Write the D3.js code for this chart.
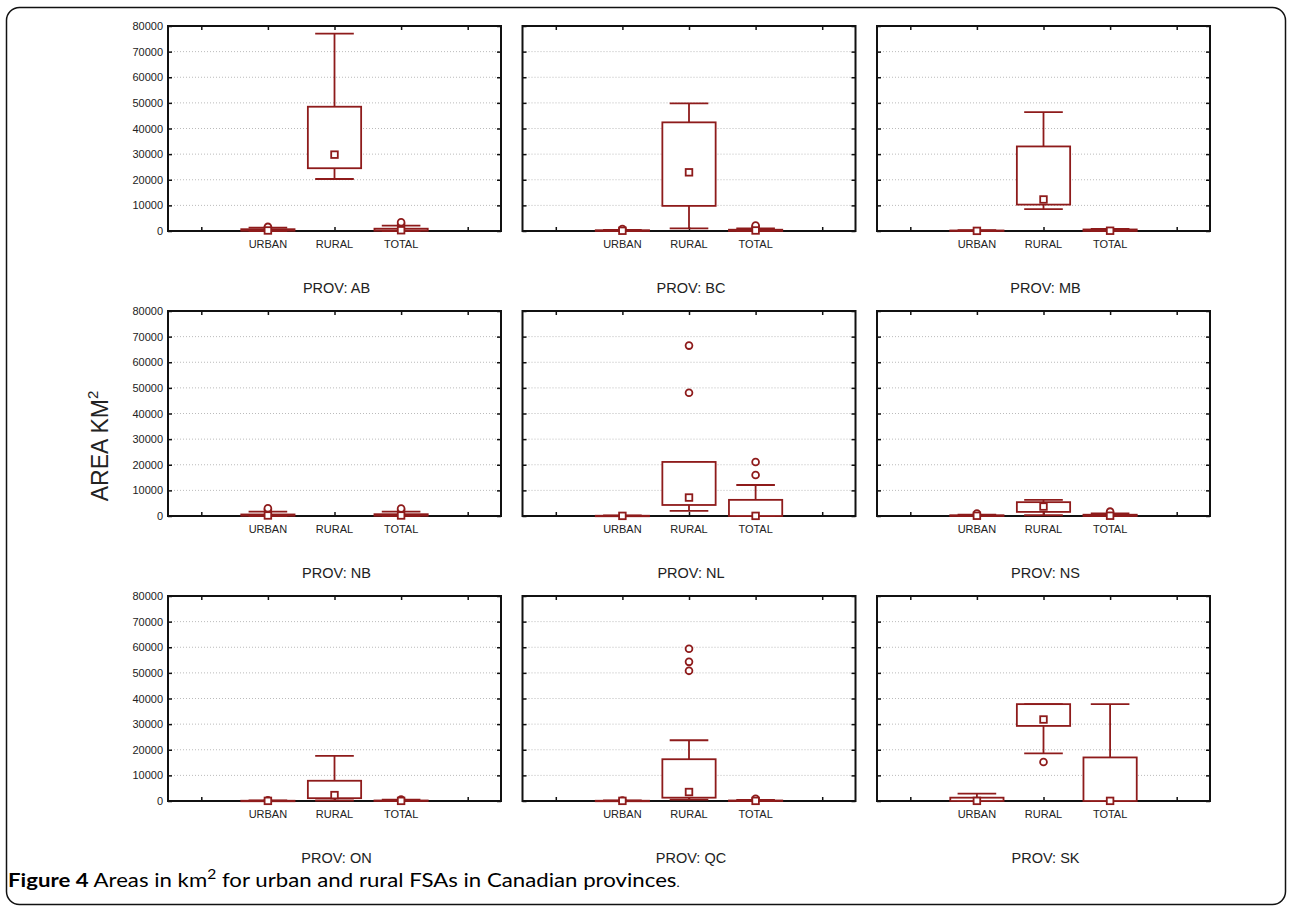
<!DOCTYPE html>
<html>
<head>
<meta charset="utf-8">
<style>
body { margin: 0; background: #fff; }
text { font-family: "Liberation Sans", Arial, sans-serif; fill: #222; }
.grid line { stroke: #bbb; stroke-dasharray: 1,2; }
.box { fill: #fff; stroke: #8e1b1b; stroke-width: 1.8; }
.whisk { stroke: #8e1b1b; stroke-width: 1.8; }
.frame { fill: none; stroke: #111; stroke-width: 2; }
</style>
</head>
<body>

<svg id="chart" width="1289" height="907"></svg>

<script src="https://d3js.org/d3.v7.min.js"></script>
<script>

var provinces = ["AB", "BC", "MB", "NB", "NL", "NS", "ON", "QC", "SK"];
var categories = ["URBAN", "RURAL", "TOTAL"];
var yTicks = [0, 10000, 20000, 30000, 40000, 50000, 60000, 70000, 80000];

// one row per province, one value per category (null = no data)
var whiskerLow = [
    [0, 20300, 0], [0, 1000, 0], [0, 8500, 0],
    [0, null, 0], [0, 2000, 0], [0, 300, 0],
    [0, 200, 0], [0, 500, 0], [0, 18600, 0]
];
var boxLow = [
    [100, 24500, 100], [0, 9800, 0], [0, 10300, 0],
    [100, null, 100], [0, 4300, 0], [0, 1600, 0],
    [0, 1100, 0], [0, 1300, 0], [0, 29300, 0]
];
var median = [
    [200, 29800, 300], [100, 22900, 200], [50, 12300, 100],
    [200, null, 200], [50, 7200, 50], [100, 3700, 100],
    [50, 2300, 50], [50, 3500, 50], [50, 31800, 50]
];
var boxHigh = [
    [700, 48500, 900], [300, 42400, 500], [200, 33000, 600],
    [600, null, 700], [100, 21100, 6300], [300, 5400, 500],
    [100, 7900, 200], [100, 16300, 200], [1300, 37800, 17000]
];
var whiskerHigh = [
    [1300, 77000, 2100], [400, 49800, 1000], [300, 46400, 800],
    [1700, null, 1700], [200, 21100, 12100], [500, 6300, 1000],
    [200, 17600, 500], [200, 23700, 400], [2900, 37800, 37800]
];
var outliers = [
    [[1600], [], [2700, 3400]],
    [[800], [], [1600, 2100]],
    [[], [], []],
    [[2400, 3000], [], [2300, 2900]],
    [[], [48100, 66500], [16000, 21100]],
    [[1000], [], [1700]],
    [[300], [], [600]],
    [[200], [50800, 54300, 59400], [900]],
    [[], [15200], []]
];

var svg = d3.select("#chart");

// outer rounded frame
svg.append("rect")
    .attr("x", 6.5).attr("y", 7.5)
    .attr("width", 1279).attr("height", 897)
    .attr("rx", 13)
    .attr("fill", "none")
    .attr("stroke", "#111")
    .attr("stroke-width", 1.5);

var pw = 333, ph = 205;
var color = "#8e1b1b";

var x = d3.scaleLinear().domain([0.5, 5.5]).range([0, pw]);
var y = d3.scaleLinear().domain([0, 80000]).range([ph, 0]);
var catPos = [2, 3, 4];
var boxHalf = 0.4, capHalf = 0.29;

function styleTicks(s) {
    s.select(".domain").remove();
    s.selectAll("line").attr("stroke", "#111").attr("stroke-width", 1.5);
}

provinces.forEach(function(prov, i) {
    var col = i % 3, row = Math.floor(i / 3);
    var g = svg.append("g")
        .attr("transform", "translate(" + (168 + col * 354.5) + "," + (26 + row * 285) + ")");

    // grid
    g.append("g").attr("class", "grid")
        .selectAll("line")
        .data(yTicks.slice(1, -1))
        .enter().append("line")
        .attr("x1", 0).attr("x2", pw)
        .attr("y1", function(d) { return y(d); })
        .attr("y2", function(d) { return y(d); });

    // inner ticks all round
    var tickLen = 4;
    g.append("g").call(d3.axisLeft(y).tickValues(yTicks).tickSizeInner(-tickLen).tickSizeOuter(0).tickFormat(""))
        .call(styleTicks);
    g.append("g").attr("transform", "translate(" + pw + ",0)")
        .call(d3.axisRight(y).tickValues(yTicks).tickSizeInner(-tickLen).tickSizeOuter(0).tickFormat(""))
        .call(styleTicks);
    g.append("g")
        .call(d3.axisTop(x).tickValues([1, 2, 3, 4, 5]).tickSizeInner(-tickLen).tickSizeOuter(0).tickFormat(""))
        .call(styleTicks);
    g.append("g").attr("transform", "translate(0," + ph + ")")
        .call(d3.axisBottom(x).tickValues([1, 2, 3, 4, 5]).tickSizeInner(-tickLen).tickSizeOuter(0).tickFormat(""))
        .call(styleTicks);

    g.append("rect").attr("class", "frame")
        .attr("x", 0).attr("y", 0).attr("width", pw).attr("height", ph);

    // y labels in first column
    if (col === 0) {
        g.selectAll(".ylab")
            .data(yTicks)
            .enter().append("text")
            .attr("class", "ylab")
            .attr("x", -5)
            .attr("y", function(d) { return y(d) + 4; })
            .attr("text-anchor", "end")
            .style("font-size", "11px")
            .text(function(d) { return d; });
    }

    // category labels
    g.selectAll(".xlab")
        .data(categories)
        .enter().append("text")
        .attr("class", "xlab")
        .attr("x", function(d, j) { return x(catPos[j]); })
        .attr("y", ph + 17)
        .attr("text-anchor", "middle")
        .style("font-size", "11px")
        .text(function(d) { return d; });

    // panel title
    g.append("text")
        .attr("x", pw / 2 + 2)
        .attr("y", ph + 62)
        .attr("text-anchor", "middle")
        .style("font-size", "14.5px")
        .text("PROV: " + prov);

    // boxes
    categories.forEach(function(cat, j) {
        if (median[i][j] === null) return;
        var cx = catPos[j];
        var lo = whiskerLow[i][j], q1 = boxLow[i][j], q3 = boxHigh[i][j], hi = whiskerHigh[i][j];
        var bg = g.append("g");

        if (hi > q3) {
            bg.append("line").attr("class", "whisk")
                .attr("x1", x(cx)).attr("x2", x(cx)).attr("y1", y(q3)).attr("y2", y(hi));
        }
        bg.append("line").attr("class", "whisk")
            .attr("x1", x(cx - capHalf)).attr("x2", x(cx + capHalf)).attr("y1", y(hi)).attr("y2", y(hi));
        if (lo < q1) {
            bg.append("line").attr("class", "whisk")
                .attr("x1", x(cx)).attr("x2", x(cx)).attr("y1", y(q1)).attr("y2", y(lo));
        }
        bg.append("line").attr("class", "whisk")
            .attr("x1", x(cx - capHalf)).attr("x2", x(cx + capHalf)).attr("y1", y(lo)).attr("y2", y(lo));

        bg.append("rect").attr("class", "box")
            .attr("x", x(cx - boxHalf))
            .attr("width", x(cx + boxHalf) - x(cx - boxHalf))
            .attr("y", y(q3))
            .attr("height", Math.max(y(q1) - y(q3), 0.5));

        bg.selectAll("circle")
            .data(outliers[i][j])
            .enter().append("circle")
            .attr("cx", x(cx))
            .attr("cy", function(d) { return y(d); })
            .attr("r", 3.4)
            .attr("fill", "#fff")
            .attr("stroke", color)
            .attr("stroke-width", 1.8);

        bg.append("rect")
            .attr("x", x(cx) - 3.3).attr("y", y(median[i][j]) - 3.3)
            .attr("width", 6.6).attr("height", 6.6)
            .attr("fill", "#fff")
            .attr("stroke", color)
            .attr("stroke-width", 1.8);
    });
});

// y axis title
var yt = svg.append("text")
    .attr("transform", "translate(108,446) rotate(-90)")
    .attr("text-anchor", "middle")
    .style("font-size", "23px");
yt.append("tspan").text("AREA KM");
yt.append("tspan").attr("dy", -10).style("font-size", "15px").text("2");

// caption
var cap = svg.append("text")
    .attr("x", 8).attr("y", 887)
    .style("font-family", "Lato, 'Noto Sans', sans-serif")
    .style("font-size", "18.5px")
    .style("fill", "#000");
cap.append("tspan").style("font-weight", "bold").text("Figure 4");
cap.append("tspan").text(" Areas in km");
cap.append("tspan").attr("dy", -8).style("font-size", "13px").text("2");
cap.append("tspan").attr("dy", 8).text(" for urban and rural FSAs in Canadian provinces");
cap.append("tspan").style("font-size", "11px").text(".");

var capW = cap.node().getComputedTextLength();
var target = 672;
cap.attr("transform", "translate(8,0) scale(" + (target / capW) + ",1) translate(-8,0)");

</script>
</body>
</html>
